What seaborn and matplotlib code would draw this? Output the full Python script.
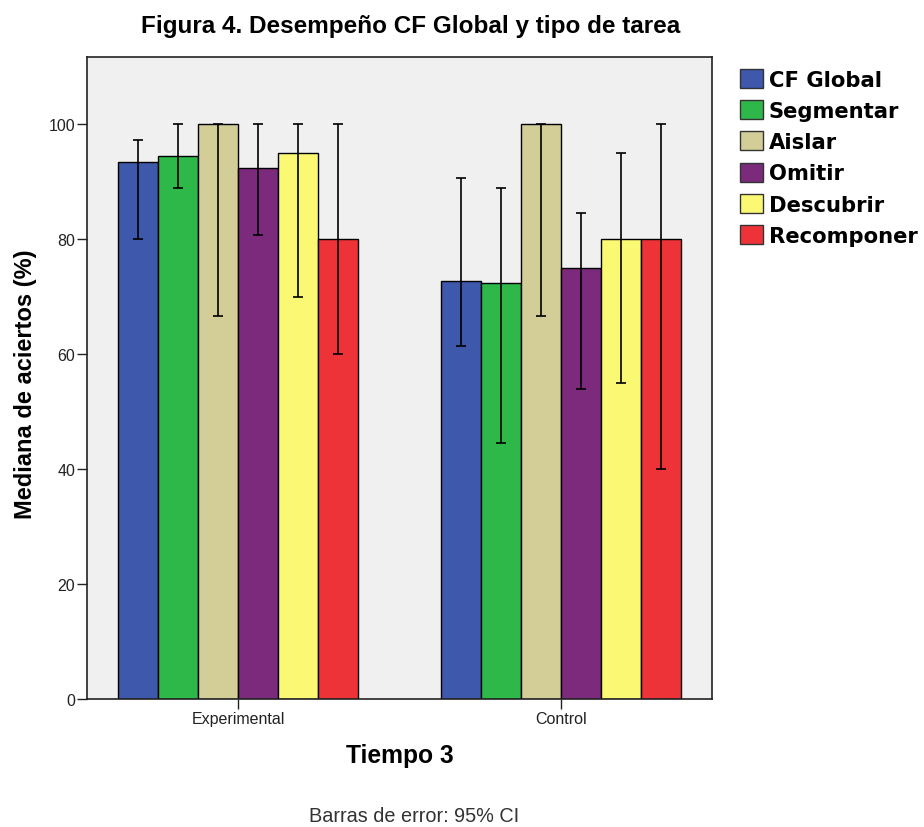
import matplotlib
matplotlib.use("Agg")
import matplotlib.pyplot as plt
import seaborn as sns
import pandas as pd
import numpy as np
from matplotlib.patches import Patch

# Median accuracy (%) per task and group, with 95% CI bounds
grupos = ["Experimental", "Control"]
tareas = ["CF Global", "Segmentar", "Aislar", "Omitir", "Descubrir", "Recomponer"]
mediana_experimental = [93.4, 94.5, 100.0, 92.3, 95.0, 80.0]
mediana_control = [72.7, 72.3, 100.0, 75.0, 80.0, 80.0]
ci_inf_experimental = [80.0, 88.9, 66.7, 80.8, 70.0, 60.0]
ci_sup_experimental = [97.3, 100.0, 100.0, 100.0, 100.0, 100.0]
ci_inf_control = [61.4, 44.6, 66.7, 54.0, 55.0, 40.0]
ci_sup_control = [90.7, 88.9, 100.0, 84.6, 95.0, 100.0]
colores = ["#3E58AC", "#2FB84A", "#D3CE98", "#7B2A7C", "#FBF874", "#EE3338"]

df = pd.DataFrame({
    "grupo": np.repeat(grupos, len(tareas)),
    "tarea": tareas * len(grupos),
    "mediana": mediana_experimental + mediana_control,
    "ci_inf": ci_inf_experimental + ci_inf_control,
    "ci_sup": ci_sup_experimental + ci_sup_control,
})

sns.set_theme(style="white")
plt.rcParams["font.family"] = ["Liberation Sans", "DejaVu Sans"]
plt.rcParams["text.color"] = "black"
plt.rcParams["axes.labelcolor"] = "black"

ANCHO = 0.743

fig = plt.figure(figsize=(9.24, 8.28), dpi=100)
ax = fig.add_axes([0.0942, 0.1546, 0.6764, 0.7754])
ax.set_facecolor("#F0F0F0")

sns.barplot(data=df, x="grupo", y="mediana", hue="tarea", order=grupos,
            hue_order=tareas, palette=colores, errorbar=None, width=ANCHO,
            gap=0, edgecolor="black", linewidth=1.0, saturation=1, ax=ax,
            legend=False)

# Error bars placed at the centre of each drawn bar
bars = [p for p in ax.patches if p.get_height() > 0]
for p in bars:
    xc = p.get_x() + p.get_width() / 2
    g = int(round(xc))
    k = int(np.floor((xc - (g - ANCHO / 2)) / (ANCHO / len(tareas))))
    fila = df[(df.grupo == grupos[g]) & (df.tarea == tareas[k])].iloc[0]
    ax.errorbar(xc, fila.mediana,
                yerr=[[fila.mediana - fila.ci_inf], [fila.ci_sup - fila.mediana]],
                fmt="none", ecolor="black", elinewidth=1.2, capsize=3.6, capthick=1.2)

ax.set_xlim(-0.467, 1.467)
ax.set_ylim(0, 111.7)
ax.set_yticks([0, 20, 40, 60, 80, 100])
ax.tick_params(axis="both", which="major", direction="out", length=7, width=1,
               color="#222222", bottom=True, left=True)
ax.tick_params(axis="y", labelsize=11.5, labelcolor="#222222", pad=1.5)
ax.tick_params(axis="x", labelsize=11.5, labelcolor="#222222", pad=1.5)
for s in ax.spines.values():
    s.set_color("#222222")
    s.set_linewidth(1.2)

ax.set_xlabel("Tiempo 3", fontsize=17.7, fontweight="bold")
ax.xaxis.set_label_coords(0.5008, -0.0678)
ax.set_ylabel("Mediana de aciertos (%)", fontsize=17, fontweight="bold")
ax.yaxis.set_label_coords(-0.08, 0.492)

fig.text(411 / 924, 1 - 26 / 828, "Figura 4. Desempeño CF Global y tipo de tarea",
         ha="center", va="center", fontsize=17.5, fontweight="bold")
fig.text(414 / 924, 1 - 817 / 828, "Barras de error: 95% CI",
         ha="center", va="center", fontsize=14.3, color="#333333")

handles = [Patch(facecolor=c, edgecolor="#333333", linewidth=1.0) for c in colores]
fig.legend(handles, tareas, loc="upper left", bbox_to_anchor=(740 / 924, 1 - 70 / 828),
           frameon=False, handlelength=1.09, handleheight=1.0,
           handletextpad=0.28, labelspacing=0.5, borderaxespad=0, borderpad=0,
           prop={"family": "DejaVu Sans", "weight": "bold", "size": 15.2})

fig.savefig("out.png", dpi=100, facecolor="white")
